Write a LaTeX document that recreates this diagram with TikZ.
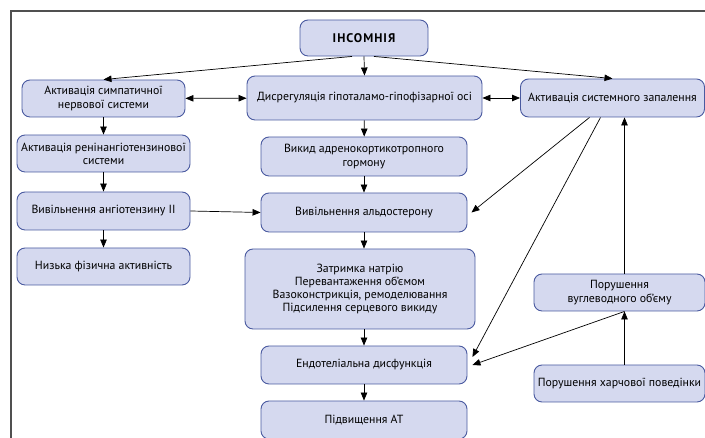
\documentclass[tikz,border=0pt]{standalone}
\usepackage{fontspec}
\setmainfont{PT Sans}
\usetikzlibrary{arrows.meta}
\definecolor{boxfill}{HTML}{D5D9EF}
\definecolor{boxline}{HTML}{4A5AA0}
\definecolor{framegray}{HTML}{505050}
\begin{document}
\begin{tikzpicture}[x=1pt, y=1pt,
    box/.style={rectangle, draw=boxline, line width=0.9pt, rounded corners=8pt, fill=boxfill, align=center, font=\fontsize{11.8}{13.2}\selectfont, inner sep=2pt},
    arr/.style={-{Triangle[length=8pt,width=6.5pt]}, line width=0.7pt},
    biarr/.style={{Triangle[length=8pt,width=6.5pt]}-{Triangle[length=8pt,width=6.5pt]}, line width=0.7pt}
]
\useasboundingbox (0,0) rectangle (705,438);
\draw[framegray, line width=1.3pt] (11,0) |- (705,427);

\node[box, minimum width=128pt, minimum height=36pt, font=\fontsize{12.5}{14}\selectfont\bfseries\addfontfeatures{LetterSpace=8}] (insom) at (364,400) {ІНСОМНІЯ};
\node[box, minimum width=163pt, minimum height=37pt] (symp) at (103.5,339.5) {Активація симпатичної\\нервової системи};
\node[box, minimum width=235pt, minimum height=44pt] (dysreg) at (364.5,340) {Дисрегуляція гіпоталамо-гіпофізарної осі};
\node[box, minimum width=184pt, minimum height=38pt] (infl) at (612.5,340) {Активація системного запалення};
\node[box, minimum width=173pt, minimum height=37pt] (renin) at (103.5,284.5) {Активація ренінангіотензинової\\системи};
\node[box, minimum width=206pt, minimum height=39pt] (acth) at (364,281.5) {Викид адренокортикотропного\\гормону};
\node[box, minimum width=173pt, minimum height=38pt] (angio) at (103.5,227) {Вивільнення ангіотензину II};
\node[box, minimum width=206pt, minimum height=39pt] (aldo) at (364,225.5) {Вивільнення альдостерону};
\node[box, minimum width=173pt, minimum height=37pt] (lowpa) at (103.5,171.5) {Низька фізична активність};
\node[box, minimum width=230pt, minimum height=80pt] (sodium) at (360,149) {Затримка натрію\\Перевантаження об’ємом\\Вазоконстрикція, ремоделювання\\Підсилення серцевого викиду};
\node[box, minimum width=206pt, minimum height=38pt] (endo) at (364,73) {Ендотеліальна дисфункція};
\node[box, minimum width=206pt, minimum height=38pt] (at) at (364,18) {Підвищення АТ};
\node[box, minimum width=171pt, minimum height=37pt] (carb) at (619.5,145.5) {Порушення\\вуглеводного об’єму};
\node[box, minimum width=171pt, minimum height=37pt] (food) at (619.5,54.5) {Порушення харчової поведінки};

\draw[arr] ([xshift=-12pt]insom.south) -- (symp.north);
\draw[arr] (insom.south) -- (dysreg.north);
\draw[arr] ([xshift=10pt]insom.south) -- (infl.north);
\draw[biarr] (symp) -- (dysreg);
\draw[biarr] (dysreg) -- (infl);
\draw[arr] (symp) -- (renin);
\draw[arr] (renin) -- (angio);
\draw[arr] (angio) -- (lowpa);
\draw[arr] (angio.east) -- (aldo.west);
\draw[arr] (dysreg) -- (acth);
\draw[arr] (acth) -- (aldo);
\draw[arr] (aldo) -- ([xshift=4pt]sodium.north);
\draw[arr] ([xshift=4pt]sodium.south) -- (endo);
\draw[arr] (endo) -- (at);
\draw[arr] ([xshift=-23pt]infl.south) -- ([xshift=4pt]aldo.east);
\draw[arr] ([xshift=-12pt]infl.south) -- ([xshift=5pt,yshift=8pt]endo.east);
\draw[arr] ([xshift=5pt]carb.north) -- ([xshift=5pt]carb.north |- infl.south);
\draw[arr] ([xshift=5pt]carb.south) -- ([xshift=5pt]endo.east);
\draw[arr] ([xshift=5pt]food.north) -- ([xshift=5pt]carb.south);
\end{tikzpicture}
\end{document}
